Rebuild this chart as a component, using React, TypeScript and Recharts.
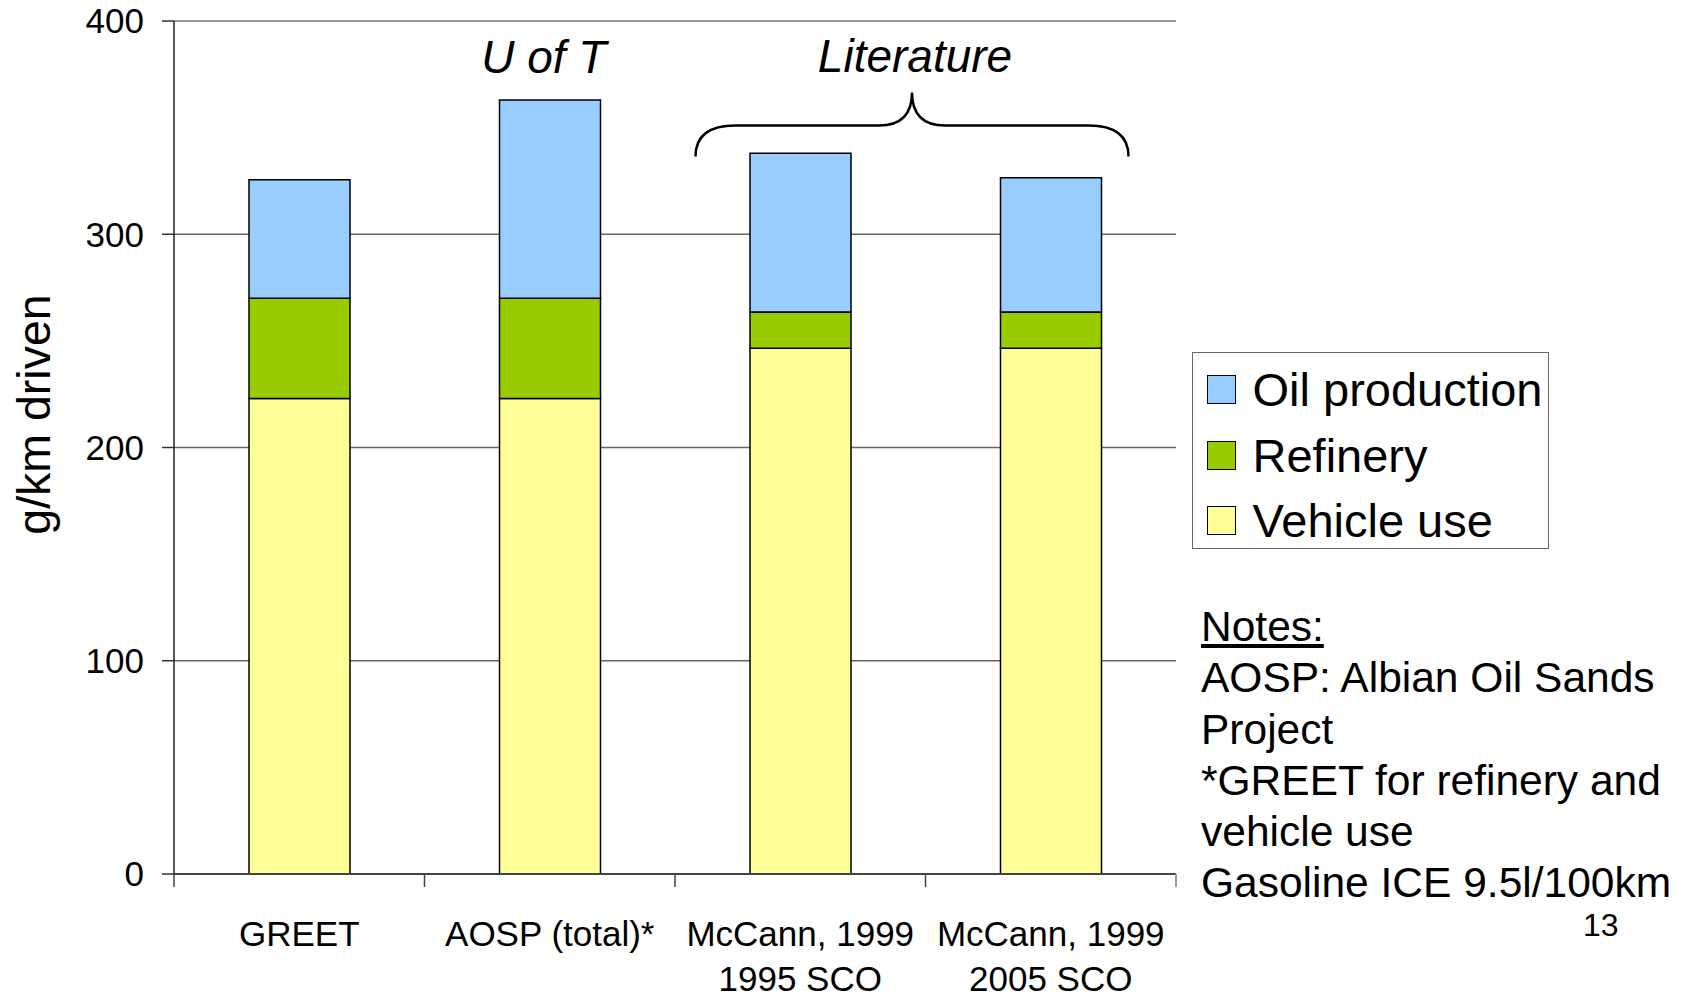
import React from "react";
import {
  BarChart,
  Bar,
  XAxis,
  YAxis,
  CartesianGrid,
  Legend,
  ReferenceArea,
  ReferenceDot,
  ReferenceLine,
} from "recharts";

const FONT = '"Liberation Sans", Arial, sans-serif';

// data
const CATEGORIES = ["GREET", "AOSP (total)*", "McCann, 1999\n1995 SCO", "McCann, 1999\n2005 SCO"];
const VEHICLE_USE = [223, 223, 246.5, 246.5];
const REFINERY = [47, 47, 17, 17];
const OIL_PRODUCTION = [55.5, 93, 74.5, 63];
const Y_TICKS = [0, 100, 200, 300, 400];
const LEGEND_ORDER = ["Oil production", "Refinery", "Vehicle use"];
const NOTES = [
  "AOSP: Albian Oil Sands",
  "Project",
  "*GREET for refinery and",
  "vehicle use",
  "Gasoline ICE 9.5l/100km",
];
const PAGE_NUMBER = "13";

// group annotations (in data units)
const U_OF_T_Y = 375.5;
const BRACE_LOW = 336.5;
const BRACE_HIGH = 366.5;

const COLORS = { vehicle: "#FFFF99", refinery: "#99CC00", oil: "#99CCFF" };

const W = 1686;
const H = 994;
const MARGIN = { top: 21, right: 510, bottom: 10, left: 0 };
const X_AXIS_H = 110;
const Y_AXIS_W = 174;

const data = CATEGORIES.map((name, i) => ({
  name,
  vehicle: VEHICLE_USE[i],
  refinery: REFINERY[i],
  oil: OIL_PRODUCTION[i],
}));

function CategoryTick(props: any) {
  const { x, y, payload, index } = props;
  const half = payload.offset ?? 125;
  const lines = String(payload.value).split("\n");
  const last = index === CATEGORIES.length - 1;
  return (
    <g>
      <line x1={x - half} x2={x - half} y1={y} y2={y + 13} stroke="#444" strokeWidth={1.5} />
      {last && <line x1={x + half} x2={x + half} y1={y} y2={y + 13} stroke="#999" strokeWidth={2} />}
      <text x={x} y={y + 72} textAnchor="middle" fontSize={35} fill="#000" fontFamily={FONT}>
        {lines.map((l, i) => (
          <tspan key={i} x={x} dy={i === 0 ? 0 : 45}>
            {l}
          </tspan>
        ))}
      </text>
    </g>
  );
}

function YLabel(p: any) {
  const vb = p.viewBox;
  const cx = vb.x + 34;
  const cy = vb.y + vb.height / 2 - 33;
  return (
    <text
      x={cx}
      y={cy}
      transform={`rotate(-90 ${cx} ${cy})`}
      textAnchor="middle"
      dominantBaseline="central"
      fontSize={46.5}
      fill="#000"
      fontFamily={FONT}
    >
      g/km driven
    </text>
  );
}

function BraceShape(p: any) {
  const { x, y, width, height } = p;
  const x0 = x + 20.5;
  const x1 = x + width - 47.5;
  const mid = (x0 + x1) / 2;
  const top = y;
  const bottom = y + height;
  const hy = y + 33;
  const d = `M${x0},${bottom} Q${x0},${hy} ${x0 + 40},${hy} L${mid - 33},${hy} Q${mid},${hy} ${mid},${top} Q${mid},${hy} ${mid + 33},${hy} L${x1 - 40},${hy} Q${x1},${hy} ${x1},${bottom}`;
  return (
    <g>
      <path d={d} fill="none" stroke="#000" strokeWidth={2.5} />
      <text x={mid + 3} y={top - 20} textAnchor="middle" fontSize={46} fontStyle="italic" fill="#000" fontFamily={FONT}>
        Literature
      </text>
    </g>
  );
}

function UofTLabel(p: any) {
  return (
    <text x={p.cx - 6} y={p.cy} textAnchor="middle" fontSize={46} fontStyle="italic" fill="#000" fontFamily={FONT}>
      U of T
    </text>
  );
}

function LegendBox({ payload }: any) {
  const items = [...(payload ?? [])].sort(
    (a: any, b: any) => LEGEND_ORDER.indexOf(a.value) - LEGEND_ORDER.indexOf(b.value)
  );
  return (
    <div
      style={{
        boxSizing: "border-box",
        width: 357,
        height: 197,
        border: "1.5px solid #666",
        background: "#fff",
        paddingTop: 4,
        fontFamily: FONT,
      }}
    >
      {items.map((it: any) => (
        <div key={it.value} style={{ display: "flex", alignItems: "center", height: 65.5 }}>
          <span
            style={{
              display: "inline-block",
              boxSizing: "border-box",
              width: 29,
              height: 29,
              marginLeft: 13.5,
              marginRight: 17,
              background: it.color,
              border: "1.5px solid #000",
            }}
          />
          <span style={{ fontSize: 47, lineHeight: "65.5px", color: "#000", whiteSpace: "nowrap" }}>{it.value}</span>
        </div>
      ))}
    </div>
  );
}

export default function App() {
  return (
    <div style={{ position: "absolute", left: 0, top: 0, width: W, height: H, background: "#fff", fontFamily: FONT }}>
      <BarChart width={W} height={H} data={data} margin={MARGIN}>
        <CartesianGrid vertical={false} stroke="#666" strokeWidth={1.5} />
        <ReferenceLine y={400} stroke="#999" strokeWidth={2} />
        <XAxis
          dataKey="name"
          height={X_AXIS_H}
          interval={0}
          tickSize={0}
          tickMargin={0}
          tickLine={false}
          axisLine={{ stroke: "#444", strokeWidth: 2 }}
          tick={<CategoryTick />}
        />
        <YAxis
          width={Y_AXIS_W}
          domain={[0, 400]}
          ticks={Y_TICKS}
          interval={0}
          tickSize={12}
          tickMargin={18}
          tickLine={{ stroke: "#333", strokeWidth: 1.5 }}
          axisLine={{ stroke: "#222", strokeWidth: 1.5 }}
          tick={{ fontSize: 35, fill: "#000", fontFamily: FONT }}
          label={YLabel}
        />
        <YAxis
          yAxisId="r"
          orientation="right"
          width={0}
          domain={[0, 400]}
          tick={false}
          tickLine={false}
          axisLine={{ stroke: "#999", strokeWidth: 2 }}
        />
        <Bar dataKey="vehicle" name="Vehicle use" stackId="a" fill={COLORS.vehicle} stroke="#000" strokeWidth={1.5} barSize={101} isAnimationActive={false} />
        <Bar dataKey="refinery" name="Refinery" stackId="a" fill={COLORS.refinery} stroke="#000" strokeWidth={1.5} barSize={101} isAnimationActive={false} />
        <Bar dataKey="oil" name="Oil production" stackId="a" fill={COLORS.oil} stroke="#000" strokeWidth={1.5} barSize={101} isAnimationActive={false} />
        <ReferenceDot x={CATEGORIES[1]} y={U_OF_T_Y} r={0} shape={UofTLabel} />
        <ReferenceArea
          x1={CATEGORIES[2]}
          x2={CATEGORIES[3]}
          y1={BRACE_LOW}
          y2={BRACE_HIGH}
          shape={BraceShape}
          ifOverflow="visible"
        />
        <Legend
          layout="vertical"
          align="center"
          verticalAlign="middle"
          content={<LegendBox />}
          wrapperStyle={{ position: "absolute", left: 1192, top: 352, width: 357, height: 197 }}
        />
      </BarChart>
      <div
        style={{
          position: "absolute",
          left: 1201,
          top: 601,
          fontSize: 42.5,
          lineHeight: "51.3px",
          color: "#000",
          whiteSpace: "nowrap",
        }}
      >
        <div style={{ textDecoration: "underline" }}>Notes:</div>
        {NOTES.map((n) => (
          <div key={n}>{n}</div>
        ))}
      </div>
      <div style={{ position: "absolute", left: 1583, top: 909, fontSize: 32, lineHeight: "32px", color: "#000" }}>
        {PAGE_NUMBER}
      </div>
    </div>
  );
}
